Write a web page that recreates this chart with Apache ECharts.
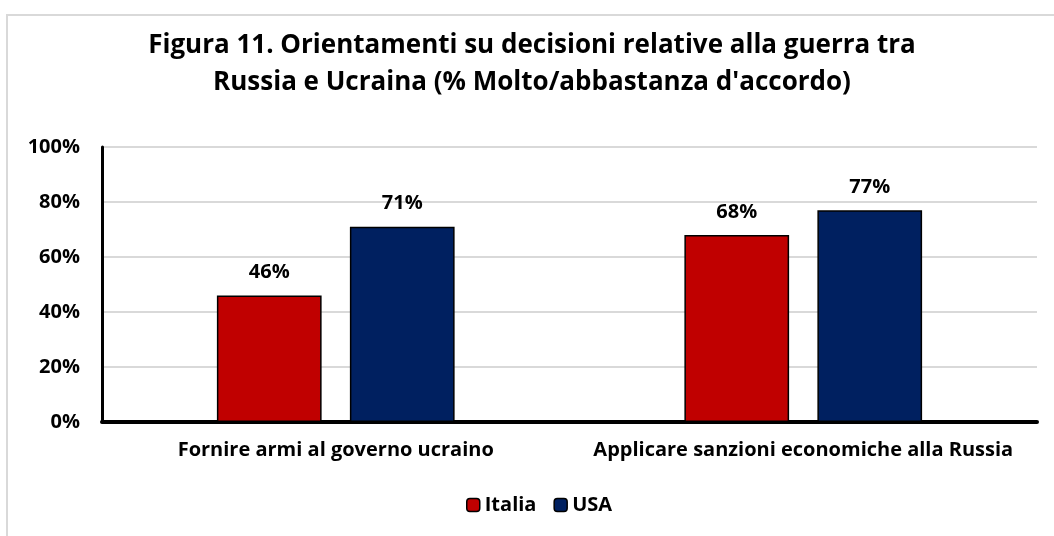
<!DOCTYPE html>
<html>
<head>
<meta charset="utf-8">
<script src="https://cdn.jsdelivr.net/npm/echarts@6/dist/echarts.min.js"></script>
<style>
  html, body { margin: 0; padding: 0; background: #ffffff; }
  #chart { width: 1054px; height: 536px; }
</style>
</head>
<body>
<div id="chart"></div>
<script>
// Categories and survey shares (% molto/abbastanza d'accordo)
const categories = ['Fornire armi al governo ucraino', 'Applicare sanzioni economiche alla Russia'];
const italia = [46, 68];
const usa = [71, 77];
const yTicks = [0, 20, 40, 60, 80, 100];

const FONT = '"Open Sans", Lato, sans-serif';

const chart = echarts.init(document.getElementById('chart'), null, { renderer: 'canvas' });

const labelStyle = {
  show: true,
  position: 'top',
  distance: 13,
  formatter: p => p.value + '%',
  fontFamily: FONT,
  fontWeight: 'bold',
  fontSize: 20,
  color: '#000000'
};

chart.setOption({
  animation: false,
  backgroundColor: '#ffffff',
  graphic: [{
    type: 'rect',
    shape: { x: 7, y: 15, width: 1060, height: 540 },
    style: { fill: 'none', stroke: '#d9d9d9', lineWidth: 2 },
    silent: true,
    z: -10
  }],
  title: {
    text: 'Figura 11. Orientamenti su decisioni relative alla guerra tra\nRussia e Ucraina (% Molto/abbastanza d\'accordo)',
    left: 527,
    top: 22,
    textAlign: 'center',
    textStyle: {
      fontFamily: FONT,
      fontWeight: 'bold',
      fontSize: 26,
      lineHeight: 37,
      color: '#000000'
    }
  },
  legend: {
    bottom: 16,
    left: 461,
    itemWidth: 13,
    itemHeight: 13,
    itemGap: 17,
    itemStyle: { borderColor: '#000000', borderWidth: 1.5 },
    textStyle: { fontFamily: FONT, fontWeight: 'bold', fontSize: 20, color: '#000000' },
    data: ['Italia', 'USA']
  },
  grid: { left: 102, right: 17, top: 147, bottom: 114, containLabel: false },
  xAxis: {
    type: 'category',
    data: categories,
    axisLine: { lineStyle: { color: '#000000', width: 4 } },
    axisTick: { show: false },
    axisLabel: {
      interval: 0,
      hideOverlap: false,
      margin: 18,
      fontFamily: FONT,
      fontWeight: 'bold',
      fontSize: 20,
      color: '#000000'
    }
  },
  yAxis: {
    type: 'value',
    min: 0,
    max: 100,
    interval: 20,
    axisLine: { show: true, lineStyle: { color: '#000000', width: 3 } },
    axisTick: { show: false },
    splitLine: { lineStyle: { color: '#d9d9d9', width: 2 } },
    axisLabel: {
      margin: 22,
      fontFamily: FONT,
      fontWeight: 'bold',
      fontSize: 20,
      color: '#000000',
      formatter: v => (yTicks.includes(v) ? v + '%' : '')
    }
  },
  series: [
    {
      name: 'Italia',
      type: 'bar',
      data: italia,
      barWidth: '22.4%',
      barGap: '27%',
      itemStyle: { color: '#c00000', borderColor: '#000000', borderWidth: 1.5 },
      label: labelStyle
    },
    {
      name: 'USA',
      type: 'bar',
      data: usa,
      barWidth: '22.4%',
      itemStyle: { color: '#002060', borderColor: '#000000', borderWidth: 1.5 },
      label: labelStyle
    }
  ]
});
</script>
</body>
</html>
